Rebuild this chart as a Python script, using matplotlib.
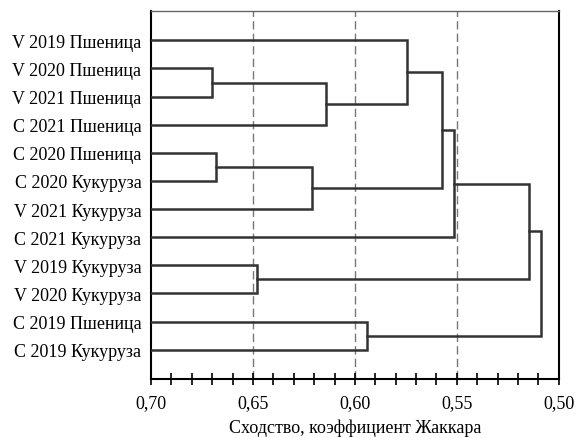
import matplotlib.pyplot as plt
from matplotlib.ticker import MultipleLocator, FuncFormatter

plt.rcParams['font.family'] = ['Liberation Serif', 'DejaVu Serif']

leaves = [
    "V 2019 Пшеница", "V 2020 Пшеница", "V 2021 Пшеница", "C 2021 Пшеница",
    "C 2020 Пшеница", "C 2020 Кукуруза", "V 2021 Кукуруза", "C 2021 Кукуруза",
    "V 2019 Кукуруза", "V 2020 Кукуруза", "C 2019 Пшеница", "C 2019 Кукуруза",
]

# merges: (left node, right node, similarity); new nodes get ids 12, 13, ...
merges = [
    (1, 2, 0.670),
    (4, 5, 0.668),
    (8, 9, 0.648),
    (12, 3, 0.614),
    (13, 6, 0.621),
    (10, 11, 0.594),
    (0, 15, 0.5745),
    (18, 16, 0.5575),
    (19, 7, 0.5515),
    (20, 14, 0.5145),
    (21, 17, 0.5085),
]

x_start = 0.70
line_col = "#333333"

fig, ax = plt.subplots(figsize=(5.79, 4.39), dpi=100)

pos = {i: (i + 1, x_start) for i in range(len(leaves))}
for k, (a, b, h) in enumerate(merges):
    ya, ha = pos[a]
    yb, hb = pos[b]
    ax.plot([ha, h, h, hb], [ya, ya, yb, yb], color=line_col, lw=1.8,
            solid_joinstyle="miter", zorder=3)
    pos[len(leaves) + k] = ((ya + yb) / 2, h)

for v in [0.65, 0.60, 0.55]:
    ax.axvline(v, color="#777777", lw=1.0, ls=(0, (6, 3)), zorder=1)

ax.set_xlim(0.70, 0.50)
ax.set_ylim(13.05, -0.05)
ax.set_yticks(range(1, len(leaves) + 1))
ax.set_yticklabels(leaves, fontsize=13)
ax.tick_params(axis="y", length=0, pad=7)

ax.xaxis.set_major_locator(MultipleLocator(0.05))
ax.xaxis.set_minor_locator(MultipleLocator(0.01))
ax.xaxis.set_major_formatter(FuncFormatter(lambda v, p: f"{v:.2f}".replace(".", ",")))
ax.tick_params(axis="x", which="both", direction="inout", length=8, width=1.2,
               labelsize=13, pad=7)
ax.set_xlabel("Сходство, коэффициент Жаккара", fontsize=13, labelpad=5)

for s in ["left", "bottom", "right"]:
    ax.spines[s].set_linewidth(1.5)
ax.spines["top"].set_linewidth(1.0)
ax.spines["top"].set_color("#666666")

fig.subplots_adjust(left=0.261, right=0.965, top=0.973, bottom=0.134)
fig.savefig("out.png", dpi=100)
